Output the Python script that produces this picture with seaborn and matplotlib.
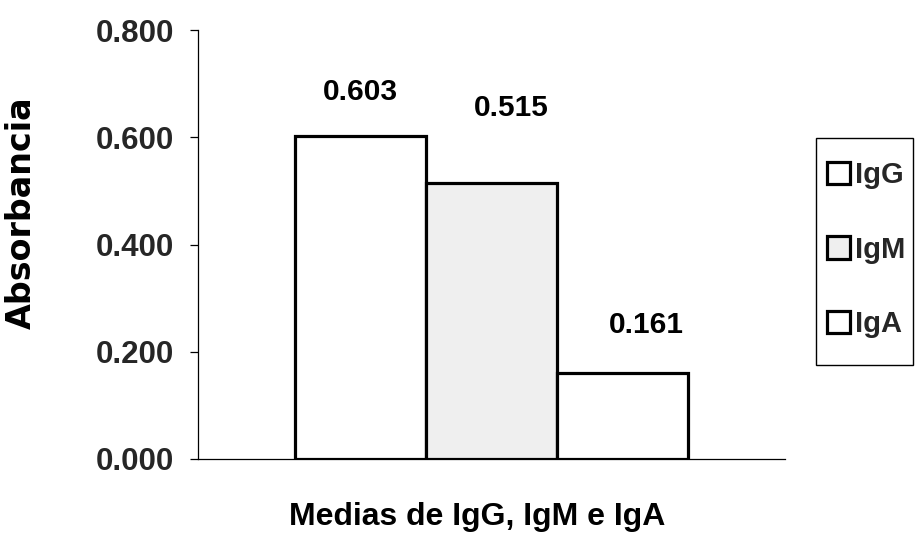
import matplotlib
matplotlib.use("Agg")
import matplotlib.pyplot as plt
from matplotlib.patches import Rectangle
import seaborn as sns
import pandas as pd

# Mean absorbance per immunoglobulin class
categorias = ["IgG", "IgM", "IgA"]
absorbancia = [0.603, 0.515, 0.161]
etiquetas = ["0.603", "0.515", "0.161"]
yticks = [0.0, 0.2, 0.4, 0.6, 0.8]
ytick_labels = ["0.000", "0.200", "0.400", "0.600", "0.800"]

# Bar fills and label placement (offsets in data units)
colores = ["#ffffff", "#efefef", "#ffffff"]
label_dx = [0.0, 0.15, 0.18]
label_dy = [0.081, 0.139, 0.089]

sns.set_style("ticks")
plt.rcParams["font.family"] = ["Liberation Sans", "DejaVu Sans"]
FONT = ["Liberation Sans", "DejaVu Sans"]

df = pd.DataFrame({"inmuno": categorias, "absorbancia": absorbancia})

W, H = 916, 558
fig = plt.figure(figsize=(W / 100, H / 100), dpi=100)
ax = fig.add_axes([198 / W, 1 - 459 / H, (785 - 198) / W, (459 - 30) / H])

sns.barplot(data=df, x="inmuno", y="absorbancia", hue="inmuno",
            palette=dict(zip(categorias, colores)), width=1.0,
            edgecolor="black", linewidth=2.3, ax=ax, legend=True)

ax.set_xlim(-1.24, 3.24)
ax.set_ylim(0, 0.8)
ax.set_yticks(yticks)
ax.set_yticklabels(ytick_labels, fontsize=22.5, fontweight="bold", family=FONT)
ax.set_xticks([])
ax.tick_params(axis="y", direction="out", length=6, width=0.9, pad=11, color="black")
for side in ["top", "right"]:
    ax.spines[side].set_visible(False)
for side in ["left", "bottom"]:
    ax.spines[side].set_linewidth(0.9)
    ax.spines[side].set_color("black")

for i, (v, t) in enumerate(zip(absorbancia, etiquetas)):
    ax.text(i + label_dx[i], v + label_dy[i], t, ha="center", va="center",
            fontsize=21.5, fontweight="bold", color="black", family=FONT)

ax.set_ylabel("Absorbancia", fontsize=24, fontweight="bold",
              family=["DejaVu Sans"], color="black")
ax.yaxis.set_label_coords(-0.272, 0.573)
ax.set_xlabel("Medias de IgG, IgM e IgA", fontsize=23, fontweight="bold",
              color="black", family=FONT)
ax.xaxis.set_label_coords(0.475, -0.10)

handles, labels = ax.get_legend_handles_labels()
for h in handles:
    h.set_edgecolor("black")
    h.set_linewidth(2.3)
leg = ax.legend(handles, labels, loc="upper left",
                bbox_to_anchor=(827 / W, 1 - 161 / H),
                bbox_transform=fig.transFigure, frameon=False,
                prop={"family": FONT, "weight": "bold", "size": 21},
                handlelength=0.8, handleheight=0.8, handletextpad=0.17,
                labelspacing=1.6, borderpad=0, borderaxespad=0)

# legend frame
fig.patches.append(Rectangle((816 / W, 1 - 365 / H), (913 - 816) / W, (365 - 138) / H,
                             transform=fig.transFigure, fill=False,
                             edgecolor="black", linewidth=1.0))

fig.savefig("out.png", dpi=100, facecolor="white")
